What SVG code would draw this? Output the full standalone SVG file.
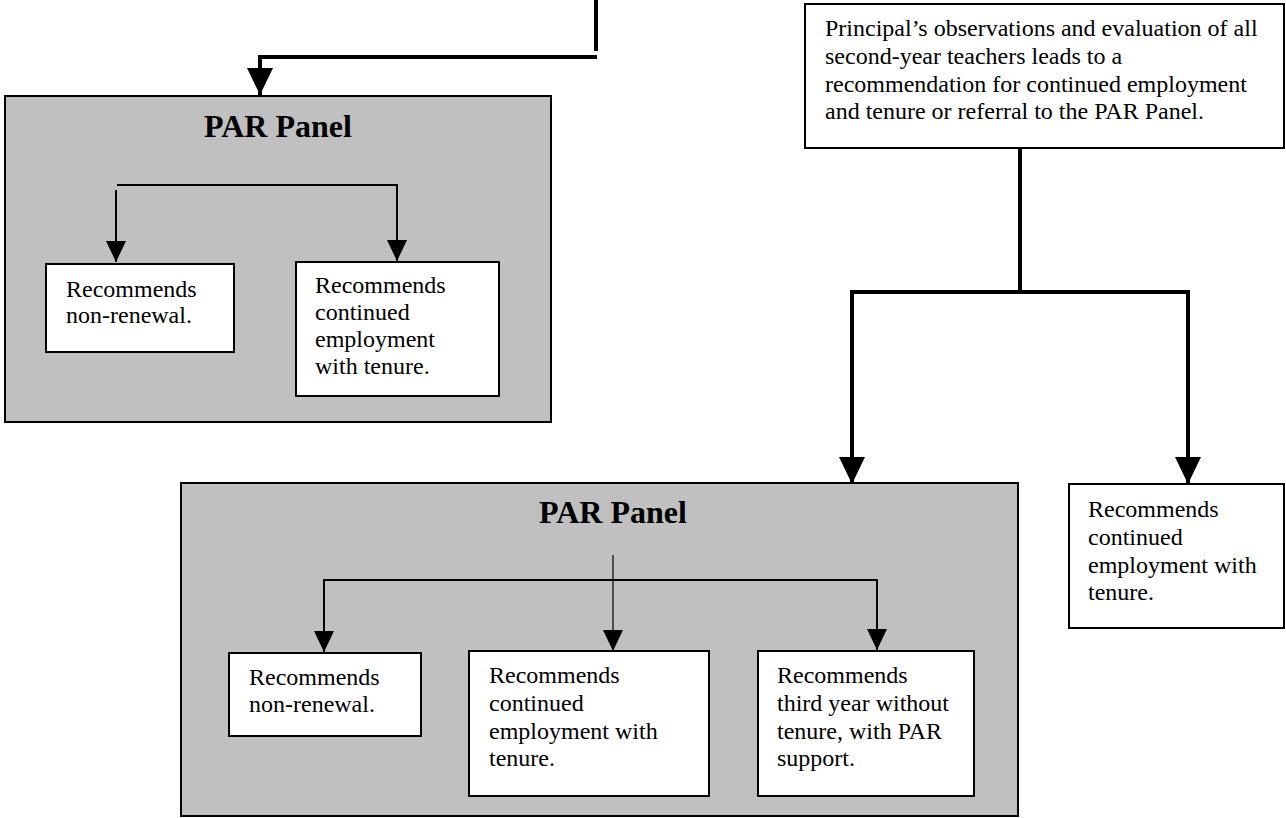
<svg xmlns="http://www.w3.org/2000/svg" width="1286" height="818" viewBox="0 0 1286 818">
<style>
.panel{fill:#c0c0c0;stroke:#000;stroke-width:2}
.box{fill:#fff;stroke:#000;stroke-width:2}
.t{font-family:"Liberation Serif","Times New Roman",serif;font-size:24px;fill:#000}
.h{font-family:"Liberation Serif","Times New Roman",serif;font-size:32px;font-weight:bold;fill:#000}
.thick{fill:none;stroke:#000;stroke-width:4}
.thin{fill:none;stroke:#000;stroke-width:2}
.hair{fill:none;stroke:#000;stroke-width:1.2}
</style>
<defs>
<marker id="aL" viewBox="0 0 27 26" markerWidth="27" markerHeight="26" refX="27" refY="13" orient="auto" markerUnits="userSpaceOnUse"><path d="M0,0 L27,13 L0,26 z" fill="#000"/></marker>
<marker id="aS" viewBox="0 0 21 20" markerWidth="21" markerHeight="20" refX="21" refY="10" orient="auto" markerUnits="userSpaceOnUse"><path d="M0,0 L21,10 L0,20 z" fill="#000"/></marker>
</defs>
<g id="panel1">
<rect class="panel" x="5" y="96" width="546" height="326"/>
<text class="h" x="278" y="137" text-anchor="middle">PAR Panel</text>
</g>
<g id="p1-nonrenewal">
<rect class="box" x="46" y="264" width="188" height="88"/>
<text class="t" x="66" y="297">Recommends</text>
<text class="t" x="66" y="323">non-renewal.</text>
</g>
<g id="p1-continued">
<rect class="box" x="296" y="262" width="203" height="134"/>
<text class="t" x="315" y="293">Recommends</text>
<text class="t" x="315" y="320">continued</text>
<text class="t" x="315" y="347">employment</text>
<text class="t" x="315" y="374">with tenure.</text>
</g>
<g id="principal">
<rect class="box" x="805" y="4" width="479" height="144"/>
<text class="t" x="825" y="36">Principal’s observations and evaluation of all</text>
<text class="t" x="825" y="64">second-year teachers leads to a</text>
<text class="t" x="825" y="92">recommendation for continued employment</text>
<text class="t" x="825" y="119">and tenure or referral to the PAR Panel.</text>
</g>
<g id="panel2">
<rect class="panel" x="181" y="483" width="837" height="333"/>
<text class="h" x="613" y="523" text-anchor="middle">PAR Panel</text>
</g>
<g id="p2-nonrenewal">
<rect class="box" x="229" y="653" width="192" height="83"/>
<text class="t" x="249" y="685">Recommends</text>
<text class="t" x="249" y="712">non-renewal.</text>
</g>
<g id="p2-continued">
<rect class="box" x="469" y="651" width="240" height="145"/>
<text class="t" x="489" y="683">Recommends</text>
<text class="t" x="489" y="711">continued</text>
<text class="t" x="489" y="739">employment with</text>
<text class="t" x="489" y="766">tenure.</text>
</g>
<g id="p2-thirdyear">
<rect class="box" x="758" y="651" width="216" height="145"/>
<text class="t" x="777" y="683">Recommends</text>
<text class="t" x="777" y="711">third year without</text>
<text class="t" x="777" y="739">tenure, with PAR</text>
<text class="t" x="777" y="766">support.</text>
</g>
<g id="right-continued">
<rect class="box" x="1069" y="484" width="215" height="144"/>
<text class="t" x="1088" y="517">Recommends</text>
<text class="t" x="1088" y="545">continued</text>
<text class="t" x="1088" y="573">employment with</text>
<text class="t" x="1088" y="600">tenure.</text>
</g>
<g id="connectors">
<path class="thick" d="M596,0 V51"/>
<path class="thick" d="M597,57 H260 V95" marker-end="url(#aL)"/>
<path class="thin" d="M117,185 H398"/>
<path class="thin" d="M116,190 V262" marker-end="url(#aS)"/>
<path class="thin" d="M397,185 V261" marker-end="url(#aS)"/>
<path class="thick" d="M1020,148 V292"/>
<path class="thick" d="M852,292 H1188"/>
<path class="thick" d="M852,290 V484" marker-end="url(#aL)"/>
<path class="thick" d="M1188,290 V484" marker-end="url(#aL)"/>
<path class="hair" d="M613,555 V651" marker-end="url(#aS)"/>
<path class="thin" d="M324,580 H877"/>
<path class="thin" d="M324,579 V652" marker-end="url(#aS)"/>
<path class="thin" d="M877,579 V650" marker-end="url(#aS)"/>
</g>
</svg>
